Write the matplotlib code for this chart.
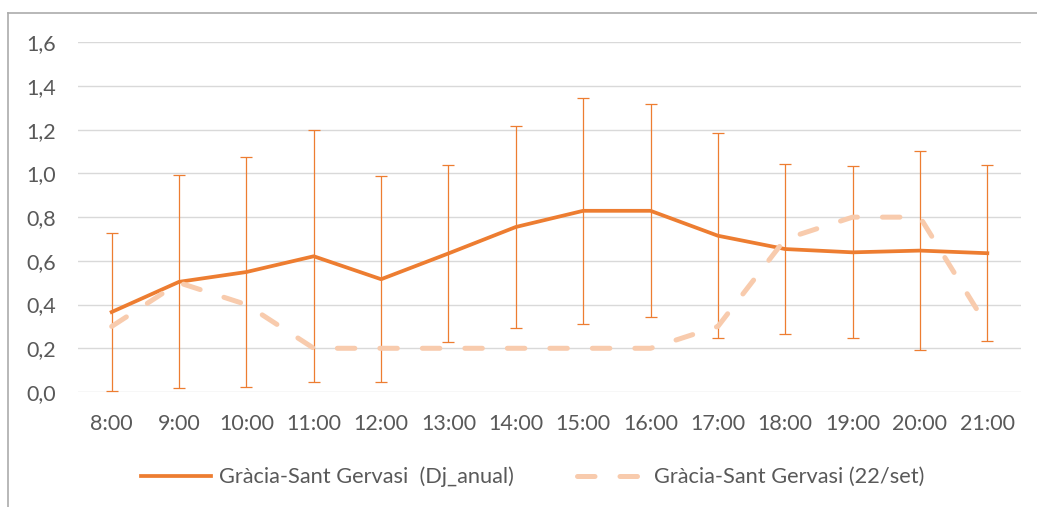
import matplotlib
matplotlib.use("Agg")
import matplotlib.pyplot as plt
from matplotlib.lines import Line2D
import numpy as np

# --- data ---
hours = ["8:00", "9:00", "10:00", "11:00", "12:00", "13:00", "14:00",
         "15:00", "16:00", "17:00", "18:00", "19:00", "20:00", "21:00"]
dj_anual = [0.366, 0.504, 0.549, 0.621, 0.516, 0.634, 0.755,
            0.829, 0.829, 0.715, 0.654, 0.639, 0.647, 0.635]
dj_anual_err = [0.360, 0.487, 0.526, 0.577, 0.472, 0.403, 0.462,
                0.516, 0.487, 0.469, 0.389, 0.394, 0.457, 0.402]
set22 = [0.3, 0.5, 0.4, 0.2, 0.2, 0.2, 0.2,
         0.2, 0.2, 0.3, 0.7, 0.8, 0.8, 0.3]

label_anual = "Gràcia-Sant Gervasi  (Dj_anual)"
label_set = "Gràcia-Sant Gervasi (22/set)"

ORANGE = "#ED7D31"
PEACH = "#F8CBAD"
GREY_TXT = "#595959"
GRID = "#D9D9D9"

plt.rcParams['font.family'] = ['Lato', 'DejaVu Sans']

W, H = 1037, 507
fig = plt.figure(figsize=(W / 100, H / 100), dpi=100)
ax = fig.add_axes([78 / W, 1 - 392 / H, (1021 - 78) / W, (392 - 42.3) / H])

x = np.arange(len(hours))

ax.errorbar(x, dj_anual, yerr=dj_anual_err, fmt='none', ecolor=ORANGE,
            elinewidth=0.9, capsize=4, capthick=0.9, zorder=2)
ax.plot(x, dj_anual, color=ORANGE, lw=2.7, solid_joinstyle='round', zorder=3,
        label=label_anual)
ax.plot(x, set22, color=PEACH, lw=3.6, dashes=(3.5, 5), dash_capstyle='round',
        zorder=4, label=label_set)

ax.set_xlim(-0.5, len(hours) - 0.5)
ax.set_ylim(0, 1.6)
ax.set_xticks(x)
ax.set_xticklabels(hours)
yt = np.arange(0, 1.61, 0.2)
ax.set_yticks(yt)
ax.set_yticklabels([f"{v:.1f}".replace(".", ",") for v in yt])
ax.tick_params(length=0, labelsize=15.5, labelcolor=GREY_TXT)
ax.tick_params(axis='x', pad=15.5)
ax.tick_params(axis='y', pad=16)

ax.grid(axis='y', color=GRID, lw=1.0, zorder=0)
ax.set_axisbelow(True)
for s in ax.spines.values():
    s.set_visible(False)

leg = fig.legend(loc='center', bbox_to_anchor=(533 / W, 1 - 477 / H), ncol=2,
                 frameon=False, fontsize=15.7, labelcolor=GREY_TXT,
                 handlelength=3.2, columnspacing=2.9, handletextpad=0.35)

# chart border (partly cut off in the reference)
bc = "#ABABAB"
fig.add_artist(Line2D([8 / W, 1.0], [1 - 13 / H, 1 - 13 / H], color=bc, lw=1.2))
fig.add_artist(Line2D([8 / W, 8 / W], [0, 1 - 13 / H], color=bc, lw=1.2))

fig.savefig("out.png", dpi=100)
